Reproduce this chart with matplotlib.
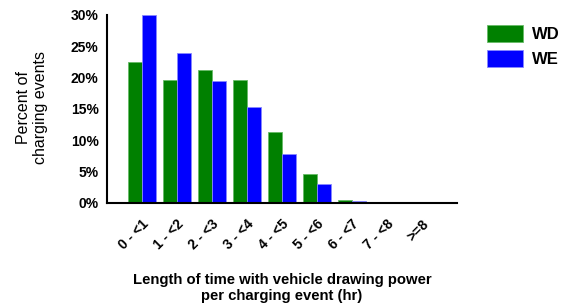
import matplotlib.pyplot as plt
import numpy as np

plt.rcParams['font.family'] = ['Liberation Sans', 'DejaVu Sans']

categories = ["0 - <1", "1 - <2", "2 - <3", "3 - <4", "4 - <5",
              "5 - <6", "6 - <7", "7 - <8", ">=8"]
wd = [22.5, 19.7, 21.2, 19.6, 11.3, 4.7, 0.43, 0.0, 0.0]
we = [30.0, 24.0, 19.5, 15.3, 7.8, 3.0, 0.27, 0.0, 0.0]
y_ticks = [0, 5, 10, 15, 20, 25, 30]

fig = plt.figure(figsize=(5.73, 3.08), dpi=100)
ax = fig.add_axes([107 / 573, 1 - 203 / 308, 350 / 573, 188 / 308])

x = np.arange(len(categories))
w = 0.39
ax.bar(x - w / 2, wd, w, color='#008000', edgecolor='#66bb66', linewidth=0.6, label='WD')
ax.bar(x + w / 2, we, w, color='#0000ff', edgecolor='#8888ff', linewidth=0.6, label='WE')

ax.set_xlim(-1, 9)
ax.set_ylim(0, 30)
ax.set_yticks(y_ticks)
ax.set_yticklabels([f"{t}%" for t in y_ticks], fontsize=10, fontweight='bold')
ax.set_xticks(x)
ax.set_xticklabels(categories, rotation=45, ha='right', rotation_mode='anchor',
                   fontsize=10, fontweight='bold')
ax.tick_params(length=0, pad=6)
ax.tick_params(axis='x', pad=10)

for s in ['top', 'right']:
    ax.spines[s].set_visible(False)
for s in ['left', 'bottom']:
    ax.spines[s].set_linewidth(1.5)

fig.text(32 / 573, 1 - 108 / 308, "Percent of\ncharging events", rotation=90,
         ha='center', va='center', fontsize=11.5, linespacing=1.15)

fig.text(282 / 573, 1 - 288 / 308, "Length of time with vehicle drawing power\nper charging event (hr)",
         ha='center', va='center', fontsize=10.7, fontweight='bold', linespacing=1.25)

ax.legend(loc='upper left', bbox_to_anchor=(480 / 573, 1 - 18 / 308), bbox_transform=fig.transFigure,
          frameon=False, handlelength=2.2, handleheight=1.2, handletextpad=0.5, borderaxespad=0,
          prop={'weight': 'bold', 'size': 12})

fig.savefig("out.png", dpi=100)
